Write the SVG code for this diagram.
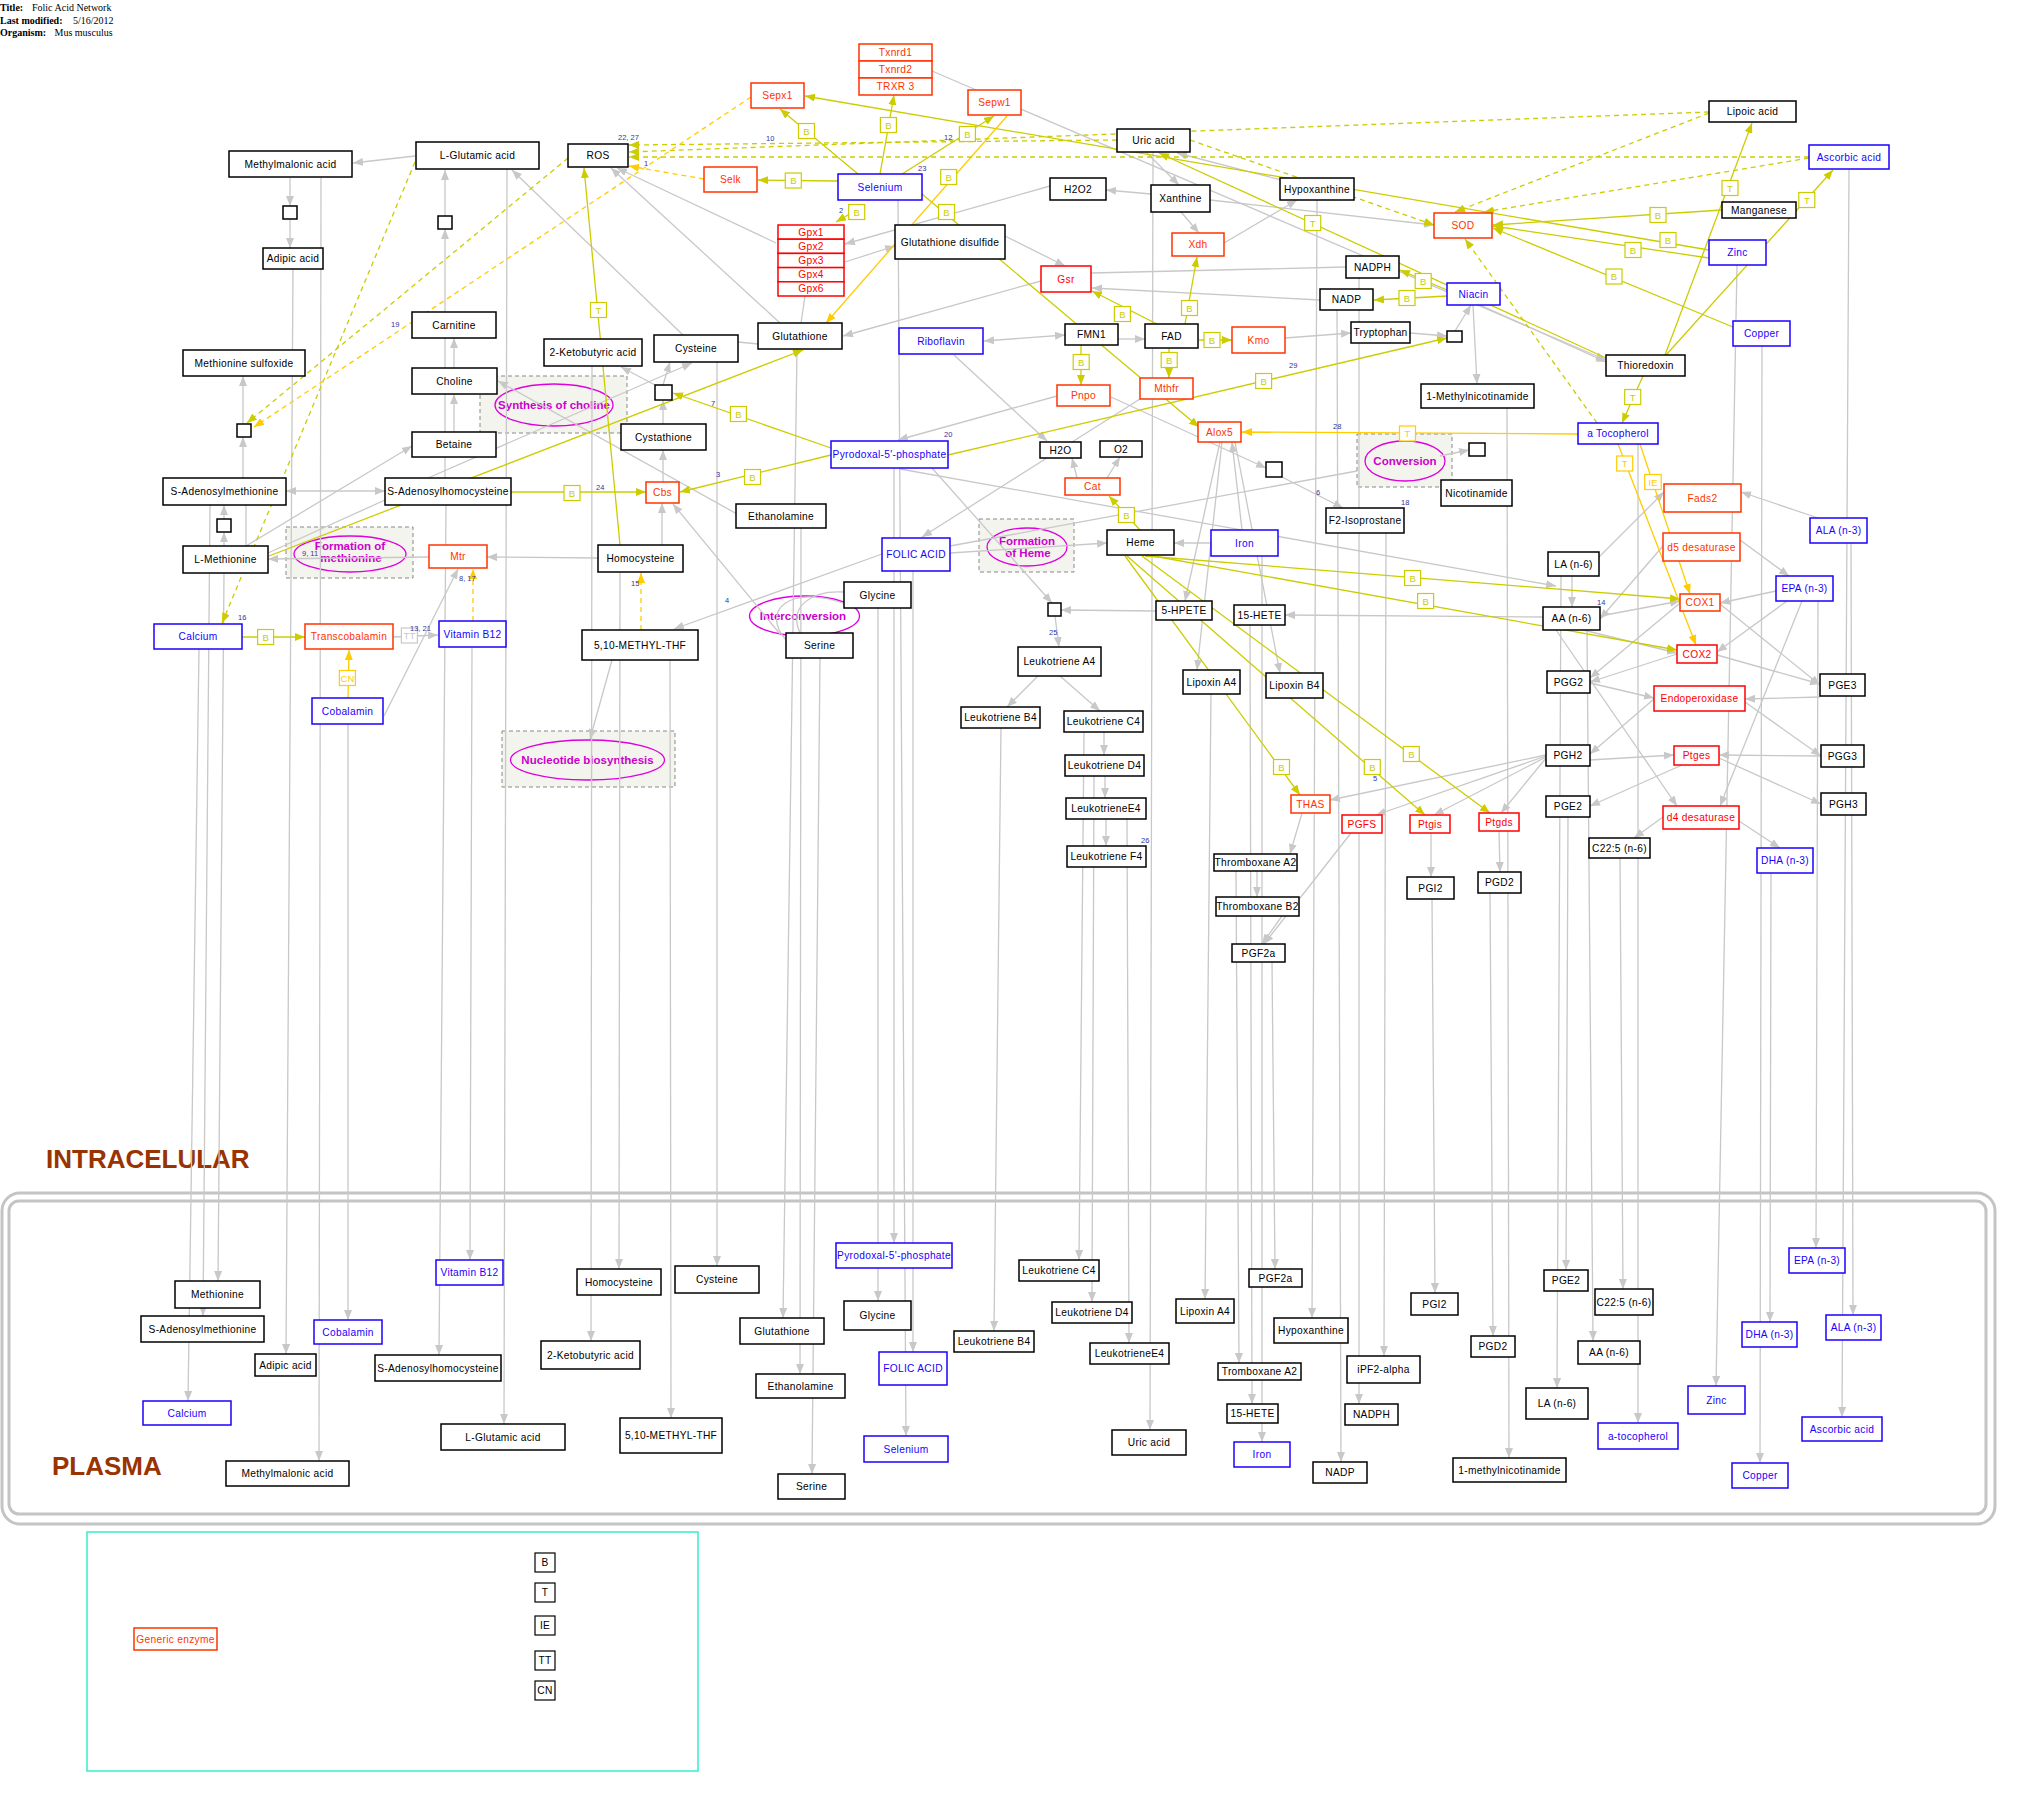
<svg xmlns="http://www.w3.org/2000/svg" width="2021" height="1801" viewBox="0 0 2021 1801">
<style>
text{font-family:"Liberation Sans",Arial,sans-serif;font-size:10.2px;letter-spacing:.3px;text-anchor:middle;fill:#000}
.node rect{fill:#fff;stroke:#000;stroke-width:1.5}
.enz rect{stroke:#ff3300}.enz text{fill:#ff3300}
.red rect{stroke:#ff0000}.red text{fill:#ff0000}
.blu rect{stroke:#1a00ff}.blu text{fill:#1a00ff}
.sq rect{fill:#fff;stroke:#000;stroke-width:1.5}
.cg{stroke:#c8c8c8;stroke-width:1.3;fill:none}
.co{stroke:#cccc00;stroke-width:1.3;fill:none}
.cy{stroke:#ffcc00;stroke-width:1.3;fill:none}
.d{stroke-dasharray:5 4}
.ag{marker-end:url(#mg)}.ao{marker-end:url(#mo)}.ay{marker-end:url(#my)}
.bi{marker-start:url(#mgs);marker-end:url(#mg)}
.mim rect{fill:#fff;stroke:#cccc00;stroke-width:1.2}.mim text{fill:#cccc00;font-size:9.5px;letter-spacing:0}
.mimy rect{fill:#fff;stroke:#ffcc00;stroke-width:1.2}.mimy text{fill:#ffcc00;font-size:9.5px;letter-spacing:0}
.mimg rect{fill:#fff;stroke:#c8c8c8;stroke-width:1.2}.mimg text{fill:#c8c8c8;font-size:9.5px;letter-spacing:0}
.num{fill:#333399;font-size:7.5px;text-anchor:start;letter-spacing:0}
.grp rect{fill:#f4f4ee;stroke:#888;stroke-width:1;stroke-dasharray:4 3}
.ell{fill:none;stroke:#dd00dd;stroke-width:1.3}
.et{fill:#cc00cc;font-weight:bold;font-size:11.5px;letter-spacing:0}
.ttl{font-family:"Liberation Serif","Times New Roman",serif;font-size:10px;text-anchor:start;letter-spacing:0}
.big{font-weight:bold;font-size:26px;fill:#993300;text-anchor:start;letter-spacing:0}
.leg rect{fill:#fff;stroke:#000;stroke-width:1.2}
</style>
<defs>
<marker id="mg" viewBox="0 0 10 8" refX="10" refY="4" markerWidth="10" markerHeight="8" markerUnits="userSpaceOnUse" orient="auto"><path d="M0,0L10,4L0,8z" fill="#c8c8c8"/></marker>
<marker id="mgs" viewBox="0 0 10 8" refX="10" refY="4" markerWidth="10" markerHeight="8" markerUnits="userSpaceOnUse" orient="auto-start-reverse"><path d="M0,0L10,4L0,8z" fill="#c8c8c8"/></marker>
<marker id="mo" viewBox="0 0 10 8" refX="10" refY="4" markerWidth="10" markerHeight="8" markerUnits="userSpaceOnUse" orient="auto"><path d="M0,0L10,4L0,8z" fill="#cccc00"/></marker>
<marker id="my" viewBox="0 0 10 8" refX="10" refY="4" markerWidth="10" markerHeight="8" markerUnits="userSpaceOnUse" orient="auto"><path d="M0,0L10,4L0,8z" fill="#ffcc00"/></marker>
</defs>
<rect width="2021" height="1801" fill="#fff"/>

<g id="title">
<text class="ttl" x="0" y="11"><tspan font-weight="bold">Title:</tspan></text><text class="ttl" x="32" y="11">Folic Acid Network</text>
<text class="ttl" x="0" y="23.5"><tspan font-weight="bold">Last modified:</tspan></text><text class="ttl" x="73" y="23.5">5/16/2012</text>
<text class="ttl" x="0" y="36"><tspan font-weight="bold">Organism:</tspan></text><text class="ttl" x="54.5" y="36">Mus musculus</text>
</g>

<g id="compartments">
<rect x="2" y="1193" width="1993" height="331" rx="18" fill="none" stroke="#c4c4c4" stroke-width="3"/>
<rect x="9" y="1201" width="1977" height="313" rx="10" fill="none" stroke="#c4c4c4" stroke-width="3"/>
<text class="big" x="46" y="1168">INTRACELULAR</text>
<text class="big" x="52" y="1475">PLASMA</text>
</g>

<g id="groups">
<g id="grp-choline" class="grp"><rect x="480" y="376" width="147" height="57"/><ellipse class="ell" cx="554" cy="405" rx="59" ry="21"/><text class="et" x="554" y="409">Synthesis of choline</text></g>
<g id="grp-methionine" class="grp"><rect x="286" y="527" width="127" height="51"/><ellipse class="ell" cx="350" cy="554" rx="56" ry="18"/><text class="et" x="350" y="550">Formation of</text><text class="et" x="351" y="562">methionine</text></g>
<g id="grp-heme" class="grp"><rect x="979" y="519" width="95" height="53"/><ellipse class="ell" cx="1027" cy="547" rx="40" ry="19"/><text class="et" x="1027" y="545">Formation</text><text class="et" x="1028" y="557">of Heme</text></g>
<g id="grp-conversion" class="grp"><rect x="1357" y="434" width="95" height="53"/><ellipse class="ell" cx="1405" cy="461" rx="40" ry="20"/><text class="et" x="1405" y="465">Conversion</text></g>
<g id="grp-nucleotide" class="grp"><rect x="502" y="731" width="173" height="56"/><ellipse class="ell" cx="587.5" cy="760" rx="77" ry="20"/><text class="et" x="587.5" y="764">Nucleotide biosynthesis</text></g>
<g id="grp-interconversion"><ellipse class="ell" cx="804.5" cy="616" rx="55" ry="20"/><text class="et" x="803" y="620">Interconversion</text></g>
</g>

<g id="connectors">
<line class="cg ag" x1="415" y1="156" x2="353" y2="163"/>
<line class="cg ag" x1="290" y1="178" x2="290" y2="206"/>
<line class="cg ag" x1="290" y1="219" x2="290" y2="248"/>
<line class="cg ag" x1="683" y1="335" x2="512" y2="170"/>
<line class="cg ag" x1="445" y1="216" x2="445" y2="170"/>
<line class="cg ag" x1="445" y1="478" x2="445" y2="229"/>
<line class="cg ag" x1="454" y1="368" x2="454" y2="338"/>
<line class="cg ag" x1="454" y1="432" x2="454" y2="394"/>
<line class="cg ag" x1="243" y1="424" x2="243" y2="376"/>
<line class="cg ag" x1="243" y1="478" x2="243" y2="437"/>
<line class="cg bi" x1="286" y1="491" x2="385" y2="491"/>
<line class="cg ag" x1="224" y1="546" x2="224" y2="532"/>
<line class="cg ag" x1="224" y1="519" x2="224" y2="505"/>
<line class="cg ag" x1="246" y1="546" x2="412" y2="446"/>
<line class="cg" x1="268" y1="553" x2="385" y2="500"/>
<line class="cg" x1="246" y1="505" x2="246" y2="546"/>
<line class="cg ag" x1="429" y1="557" x2="268" y2="559"/>
<line class="cg ag" x1="598" y1="558" x2="487" y2="557"/>
<line class="cg ag" x1="662" y1="545" x2="662" y2="503"/>
<line class="cg ag" x1="663" y1="482" x2="663" y2="450"/>
<line class="cg ag" x1="663" y1="424" x2="663" y2="400"/>
<line class="cg ag" x1="657" y1="386" x2="621" y2="367"/>
<line class="cg ag" x1="663" y1="385" x2="670" y2="362"/>
<line class="cg ag" x1="428" y1="478" x2="692" y2="363"/>
<line class="cg ag" x1="737" y1="514" x2="498" y2="381"/>
<line class="cg ag" x1="780" y1="634" x2="673" y2="504"/>
<line class="cg ag" x1="384" y1="716" x2="458" y2="569"/>
<line class="cg ag" x1="393" y1="637" x2="438" y2="635"/>
<line class="cg ag" x1="882" y1="554" x2="674" y2="629"/>
<line class="cg ag" x1="612" y1="660" x2="590" y2="739"/>
<line class="cg ag" x1="776" y1="243" x2="617" y2="168"/>
<line class="cg ag" x1="780" y1="323" x2="611" y2="168"/>
<line class="cg ag" x1="845" y1="262" x2="895" y2="246"/>
<line class="cg ag" x1="1050" y1="186" x2="845" y2="244"/>
<line class="cg" x1="805" y1="296" x2="801" y2="323"/>
<line class="cg" x1="738" y1="342" x2="758" y2="344"/>
<line class="cg ag" x1="1005" y1="236" x2="1065" y2="266"/>
<line class="cg ag" x1="1041" y1="281" x2="843" y2="336"/>
<line class="cg" x1="1091" y1="273" x2="1346" y2="267"/>
<line class="cg ag" x1="1320" y1="300" x2="1092" y2="288"/>
<line class="cg bi" x1="984" y1="341" x2="1065" y2="335"/>
<line class="cg ag" x1="1118" y1="339" x2="1145" y2="339"/>
<line class="cg ag" x1="954" y1="355" x2="1047" y2="441"/>
<line class="cg ag" x1="1057" y1="396" x2="898" y2="440"/>
<line class="cg ag" x1="1111" y1="397" x2="1266" y2="468"/>
<line class="cg ag" x1="1282" y1="477" x2="1343" y2="508"/>
<line class="cg ag" x1="1140" y1="399" x2="922" y2="537"/>
<line class="cg ag" x1="1077" y1="478" x2="1072" y2="458"/>
<line class="cg ag" x1="1107" y1="478" x2="1120" y2="457"/>
<line class="cg ag" x1="1211" y1="543" x2="1174" y2="543"/>
<line class="cg ag" x1="950" y1="553" x2="1107" y2="543"/>
<line class="cg" x1="950" y1="546" x2="1357" y2="471"/>
<line class="cg ag" x1="900" y1="469" x2="1556" y2="586"/>
<line class="cg ag" x1="1220" y1="442" x2="1185" y2="601"/>
<line class="cg ag" x1="1222" y1="442" x2="1197" y2="670"/>
<line class="cg ag" x1="1242" y1="530" x2="1232" y2="442"/>
<line class="cg ag" x1="1235" y1="442" x2="1280" y2="673"/>
<line class="cg ag" x1="1156" y1="611" x2="1061" y2="610"/>
<line class="cg ag" x1="1055" y1="616" x2="1059" y2="647"/>
<line class="cg ag" x1="932" y1="468" x2="1052" y2="603"/>
<line class="cg ag" x1="1038" y1="676" x2="1007" y2="707"/>
<line class="cg ag" x1="1060" y1="676" x2="1100" y2="711"/>
<line class="cg ag" x1="1104" y1="732" x2="1104" y2="755"/>
<line class="cg ag" x1="1105" y1="776" x2="1105" y2="798"/>
<line class="cg ag" x1="1106" y1="819" x2="1106" y2="846"/>
<line class="cg ag" x1="1543" y1="617" x2="1285" y2="615"/>
<line class="cg ag" x1="1151" y1="194" x2="1106" y2="190"/>
<line class="cg ag" x1="1146" y1="152" x2="1179" y2="185"/>
<line class="cg ag" x1="1181" y1="212" x2="1199" y2="233"/>
<line class="cg ag" x1="1224" y1="243" x2="1297" y2="200"/>
<line class="cg ag" x1="1281" y1="180" x2="1177" y2="153"/>
<line class="cg ag" x1="1210" y1="200" x2="1434" y2="225"/>
<line class="cg ag" x1="932" y1="71" x2="1606" y2="360"/>
<line class="cg ag" x1="1285" y1="338" x2="1351" y2="333"/>
<line class="cg ag" x1="1410" y1="333" x2="1447" y2="336"/>
<line class="cg ag" x1="1455" y1="331" x2="1471" y2="305"/>
<line class="cg ag" x1="1473" y1="305" x2="1477" y2="384"/>
<line class="cg ag" x1="1480" y1="305" x2="1606" y2="362"/>
<line class="cg ag" x1="1440" y1="456" x2="1469" y2="450"/>
<line class="cg ag" x1="1818" y1="518" x2="1741" y2="492"/>
<line class="cg ag" x1="1599" y1="557" x2="1664" y2="492"/>
<line class="cg ag" x1="1740" y1="540" x2="1789" y2="576"/>
<line class="cg ag" x1="1663" y1="546" x2="1600" y2="619"/>
<line class="cg ag" x1="1572" y1="576" x2="1572" y2="607"/>
<line class="cg ag" x1="1600" y1="616" x2="1680" y2="601"/>
<line class="cg ag" x1="1583" y1="630" x2="1677" y2="653"/>
<line class="cg ag" x1="1680" y1="603" x2="1590" y2="678"/>
<line class="cg ag" x1="1677" y1="654" x2="1590" y2="682"/>
<line class="cg ag" x1="1776" y1="591" x2="1720" y2="603"/>
<line class="cg ag" x1="1787" y1="601" x2="1717" y2="652"/>
<line class="cg ag" x1="1720" y1="604" x2="1820" y2="685"/>
<line class="cg ag" x1="1717" y1="655" x2="1820" y2="684"/>
<line class="cg ag" x1="1590" y1="683" x2="1654" y2="698"/>
<line class="cg ag" x1="1820" y1="697" x2="1745" y2="699"/>
<line class="cg ag" x1="1654" y1="699" x2="1590" y2="754"/>
<line class="cg ag" x1="1745" y1="702" x2="1821" y2="756"/>
<line class="cg ag" x1="1590" y1="760" x2="1674" y2="755"/>
<line class="cg ag" x1="1821" y1="756" x2="1719" y2="755"/>
<line class="cg ag" x1="1682" y1="765" x2="1590" y2="806"/>
<line class="cg ag" x1="1719" y1="758" x2="1821" y2="804"/>
<line class="cg ag" x1="1556" y1="630" x2="1677" y2="806"/>
<line class="cg ag" x1="1663" y1="817" x2="1634" y2="838"/>
<line class="cg ag" x1="1739" y1="821" x2="1780" y2="848"/>
<line class="cg ag" x1="1802" y1="601" x2="1720" y2="806"/>
<line class="cg ag" x1="1546" y1="756" x2="1376" y2="815"/>
<line class="cg ag" x1="1546" y1="757" x2="1434" y2="815"/>
<line class="cg ag" x1="1546" y1="758" x2="1501" y2="813"/>
<line class="cg ag" x1="1546" y1="755" x2="1330" y2="800"/>
<line class="cg ag" x1="1431" y1="833" x2="1431" y2="877"/>
<line class="cg ag" x1="1499" y1="831" x2="1500" y2="872"/>
<line class="cg ag" x1="1351" y1="833" x2="1264" y2="944"/>
<line class="cg ag" x1="1302" y1="813" x2="1290" y2="854"/>
<line class="cg ag" x1="1257" y1="871" x2="1257" y2="897"/>
<line class="cg ag" x1="1282" y1="916" x2="1262" y2="944"/>
<path class="cg" d="M800,633 C788,606 812,590 844,592"/>
<path class="cg" d="M786,640 C760,610 790,584 846,604"/>
<line class="cg ag" x1="224" y1="573" x2="218" y2="1281"/>
<line class="cg ag" x1="210" y1="505" x2="203" y2="1316"/>
<line class="cg ag" x1="199" y1="649" x2="188" y2="1401"/>
<line class="cg ag" x1="293" y1="269" x2="286" y2="1354"/>
<line class="cg ag" x1="321" y1="178" x2="319" y2="1461"/>
<line class="cg ag" x1="348" y1="724" x2="348" y2="1320"/>
<line class="cg ag" x1="472" y1="647" x2="470" y2="1260"/>
<line class="cg ag" x1="446" y1="505" x2="439" y2="1355"/>
<line class="cg ag" x1="507" y1="169" x2="504" y2="1424"/>
<line class="cg ag" x1="620" y1="572" x2="619" y2="1269"/>
<line class="cg ag" x1="592" y1="366" x2="591" y2="1341"/>
<line class="cg ag" x1="670" y1="660" x2="671" y2="1418"/>
<line class="cg ag" x1="717" y1="362" x2="717" y2="1266"/>
<line class="cg ag" x1="797" y1="349" x2="783" y2="1318"/>
<line class="cg ag" x1="801" y1="528" x2="800" y2="1374"/>
<line class="cg ag" x1="820" y1="658" x2="812" y2="1474"/>
<line class="cg ag" x1="894" y1="468" x2="894" y2="1243"/>
<line class="cg ag" x1="878" y1="608" x2="878" y2="1301"/>
<line class="cg ag" x1="913" y1="571" x2="913" y2="1352"/>
<line class="cg ag" x1="898" y1="200" x2="906" y2="1436"/>
<line class="cg ag" x1="1001" y1="728" x2="994" y2="1331"/>
<line class="cg ag" x1="1084" y1="732" x2="1079" y2="1260"/>
<line class="cg ag" x1="1094" y1="776" x2="1092" y2="1302"/>
<line class="cg ag" x1="1127" y1="819" x2="1129" y2="1343"/>
<line class="cg ag" x1="1153" y1="152" x2="1150" y2="1430"/>
<line class="cg ag" x1="1211" y1="694" x2="1205" y2="1299"/>
<line class="cg ag" x1="1272" y1="962" x2="1275" y2="1269"/>
<line class="cg ag" x1="1236" y1="871" x2="1239" y2="1363"/>
<line class="cg ag" x1="1250" y1="625" x2="1252" y2="1404"/>
<line class="cg ag" x1="1262" y1="556" x2="1262" y2="1442"/>
<line class="cg ag" x1="1317" y1="200" x2="1312" y2="1318"/>
<line class="cg ag" x1="1337" y1="310" x2="1341" y2="1462"/>
<line class="cg ag" x1="1359" y1="278" x2="1359" y2="1404"/>
<line class="cg ag" x1="1386" y1="533" x2="1384" y2="1356"/>
<line class="cg ag" x1="1432" y1="899" x2="1435" y2="1293"/>
<line class="cg ag" x1="1490" y1="893" x2="1493" y2="1336"/>
<line class="cg ag" x1="1507" y1="408" x2="1509" y2="1458"/>
<line class="cg ag" x1="1568" y1="817" x2="1566" y2="1270"/>
<line class="cg ag" x1="1561" y1="576" x2="1557" y2="1388"/>
<line class="cg ag" x1="1620" y1="858" x2="1623" y2="1289"/>
<line class="cg ag" x1="1587" y1="630" x2="1593" y2="1341"/>
<line class="cg ag" x1="1638" y1="444" x2="1638" y2="1423"/>
<line class="cg ag" x1="1737" y1="265" x2="1716" y2="1386"/>
<line class="cg ag" x1="1762" y1="346" x2="1760" y2="1463"/>
<line class="cg ag" x1="1771" y1="873" x2="1770" y2="1322"/>
<line class="cg ag" x1="1818" y1="601" x2="1816" y2="1248"/>
<line class="cg ag" x1="1851" y1="542" x2="1853" y2="1315"/>
<line class="cg ag" x1="1849" y1="169" x2="1842" y2="1417"/>
<line class="co ao" x1="511" y1="492" x2="646" y2="492"/>
<line class="co ao" x1="620" y1="545" x2="584" y2="168"/>
<line class="co ao" x1="269" y1="556" x2="803" y2="350"/>
<line class="co ao" x1="242" y1="637" x2="305" y2="637"/>
<line class="co ao" x1="858" y1="174" x2="780" y2="109"/>
<line class="co ao" x1="880" y1="174" x2="894" y2="95"/>
<line class="co ao" x1="902" y1="174" x2="994" y2="116"/>
<line class="co ao" x1="838" y1="181" x2="758" y2="180"/>
<line class="co ao" x1="865" y1="205" x2="836" y2="222"/>
<line class="co ao" x1="922" y1="194" x2="1199" y2="427"/>
<line class="co ao" x1="1709" y1="250" x2="805" y2="96"/>
<line class="co ao" x1="1606" y1="358" x2="1159" y2="153"/>
<line class="co ao" x1="1157" y1="324" x2="1092" y2="291"/>
<line class="co ao" x1="1185" y1="324" x2="1197" y2="257"/>
<line class="co ao" x1="1199" y1="340" x2="1232" y2="340"/>
<line class="co ao" x1="1081" y1="345" x2="1081" y2="385"/>
<line class="co ao" x1="1169" y1="348" x2="1169" y2="378"/>
<line class="co ao" x1="948" y1="455" x2="1447" y2="338"/>
<line class="co ao" x1="831" y1="448" x2="673" y2="393"/>
<line class="co ao" x1="831" y1="455" x2="680" y2="492"/>
<line class="co ao" x1="1140" y1="530" x2="1109" y2="496"/>
<line class="co ao" x1="1722" y1="210" x2="1493" y2="225"/>
<line class="co ao" x1="1709" y1="258" x2="1493" y2="226"/>
<line class="co ao" x1="1733" y1="327" x2="1493" y2="228"/>
<line class="co ao" x1="1447" y1="290" x2="1400" y2="270"/>
<line class="co ao" x1="1447" y1="296" x2="1374" y2="300"/>
<line class="co ao" x1="1643" y1="376" x2="1622" y2="423"/>
<line class="co ao" x1="1665" y1="355" x2="1752" y2="123"/>
<line class="co ao" x1="1666" y1="355" x2="1833" y2="170"/>
<line class="co ao" x1="1125" y1="556" x2="1300" y2="795"/>
<line class="co ao" x1="1127" y1="556" x2="1425" y2="815"/>
<line class="co ao" x1="1142" y1="556" x2="1490" y2="813"/>
<line class="co ao" x1="1145" y1="556" x2="1680" y2="599"/>
<line class="co ao" x1="1153" y1="556" x2="1677" y2="650"/>
<line class="cy ay" x1="1007" y1="116" x2="826" y2="323"/>
<line class="cy ay" x1="1578" y1="434" x2="1242" y2="432"/>
<line class="cy ay" x1="1618" y1="444" x2="1696" y2="645"/>
<line class="cy ay" x1="1640" y1="444" x2="1690" y2="594"/>
<line class="cy ay" x1="348" y1="698" x2="349" y2="650"/>
<line class="co d ao" x1="415" y1="162" x2="222" y2="623"/>
<line class="co d ao" x1="568" y1="158" x2="247" y2="423"/>
<line class="co d ao" x1="1117" y1="140" x2="629" y2="145"/>
<line class="co d ao" x1="1709" y1="112" x2="629" y2="152"/>
<line class="co d ao" x1="1809" y1="157" x2="629" y2="157"/>
<line class="co d ao" x1="1190" y1="140" x2="1434" y2="225"/>
<line class="co d ao" x1="1709" y1="113" x2="1455" y2="212"/>
<line class="co d ao" x1="1809" y1="158" x2="1484" y2="212"/>
<line class="co d ao" x1="1597" y1="423" x2="1465" y2="239"/>
<line class="cy d ay" x1="751" y1="97" x2="254" y2="427"/>
<line class="cy d ay" x1="704" y1="179" x2="629" y2="166"/>
<line class="cy d ay" x1="473" y1="621" x2="473" y2="569"/>
<line class="cy d ay" x1="641" y1="630" x2="641" y2="573"/>
</g>

<g id="edge-labels">
<g class="mim"><rect x="564" y="485.5" width="16" height="15"/><text x="572" y="496.5">B</text></g>
<g class="mim"><rect x="257.6" y="629.5" width="16" height="15"/><text x="265.6" y="640.5">B</text></g>
<g class="mim"><rect x="798.5" y="123.5" width="16" height="15"/><text x="806.5" y="134.5">B</text></g>
<g class="mim"><rect x="880.4" y="117.5" width="16" height="15"/><text x="888.4" y="128.5">B</text></g>
<g class="mim"><rect x="959.4" y="126.5" width="16" height="15"/><text x="967.4" y="137.5">B</text></g>
<g class="mim"><rect x="785.3" y="173" width="16" height="15"/><text x="793.3" y="184">B</text></g>
<g class="mim"><rect x="848.7" y="204.5" width="16" height="15"/><text x="856.7" y="215.5">B</text></g>
<g class="mim"><rect x="940.7" y="169.5" width="16" height="15"/><text x="948.7" y="180.5">B</text></g>
<g class="mim"><rect x="938.5" y="204.5" width="16" height="15"/><text x="946.5" y="215.5">B</text></g>
<g class="mim"><rect x="1114.4" y="306.5" width="16" height="15"/><text x="1122.4" y="317.5">B</text></g>
<g class="mim"><rect x="1181.5" y="300.5" width="16" height="15"/><text x="1189.5" y="311.5">B</text></g>
<g class="mim"><rect x="1204" y="332.5" width="16" height="15"/><text x="1212" y="343.5">B</text></g>
<g class="mim"><rect x="1073.2" y="354.5" width="16" height="15"/><text x="1081.2" y="365.5">B</text></g>
<g class="mim"><rect x="1161.2" y="352.5" width="16" height="15"/><text x="1169.2" y="363.5">B</text></g>
<g class="mim"><rect x="1255.6" y="373.5" width="16" height="15"/><text x="1263.6" y="384.5">B</text></g>
<g class="mim"><rect x="730.4" y="406.5" width="16" height="15"/><text x="738.4" y="417.5">B</text></g>
<g class="mim"><rect x="744.5" y="469.5" width="16" height="15"/><text x="752.5" y="480.5">B</text></g>
<g class="mim"><rect x="1118.4" y="507.5" width="16" height="15"/><text x="1126.4" y="518.5">B</text></g>
<g class="mim"><rect x="1650" y="207.5" width="16" height="15"/><text x="1658" y="218.5">B</text></g>
<g class="mim"><rect x="1660" y="232.5" width="16" height="15"/><text x="1668" y="243.5">B</text></g>
<g class="mim"><rect x="1625" y="242.5" width="16" height="15"/><text x="1633" y="253.5">B</text></g>
<g class="mim"><rect x="1606" y="269" width="16" height="15"/><text x="1614" y="280">B</text></g>
<g class="mim"><rect x="1415.2" y="273.5" width="16" height="15"/><text x="1423.2" y="284.5">B</text></g>
<g class="mim"><rect x="1399" y="290.5" width="16" height="15"/><text x="1407" y="301.5">B</text></g>
<g class="mim"><rect x="1404.6" y="570.5" width="16" height="15"/><text x="1412.6" y="581.5">B</text></g>
<g class="mim"><rect x="1417.6" y="593.5" width="16" height="15"/><text x="1425.6" y="604.5">B</text></g>
<g class="mim"><rect x="1273.5" y="759.5" width="16" height="15"/><text x="1281.5" y="770.5">B</text></g>
<g class="mim"><rect x="1364.3" y="759.5" width="16" height="15"/><text x="1372.3" y="770.5">B</text></g>
<g class="mim"><rect x="1403.3" y="746.5" width="16" height="15"/><text x="1411.3" y="757.5">B</text></g>
<g class="mim"><rect x="590.5" y="302.5" width="16" height="15"/><text x="598.5" y="313.5">T</text></g>
<g class="mim"><rect x="1304.7" y="215.5" width="16" height="15"/><text x="1312.7" y="226.5">T</text></g>
<g class="mim"><rect x="1722" y="180.5" width="16" height="15"/><text x="1730" y="191.5">T</text></g>
<g class="mim"><rect x="1798.8" y="192.5" width="16" height="15"/><text x="1806.8" y="203.5">T</text></g>
<g class="mim"><rect x="1624.7" y="389.5" width="16" height="15"/><text x="1632.7" y="400.5">T</text></g>
<g class="mimy"><rect x="1399.5" y="426" width="16" height="15"/><text x="1407.5" y="437">T</text></g>
<g class="mimy"><rect x="1616.7" y="456" width="16" height="15"/><text x="1624.7" y="467">T</text></g>
<g class="mimy"><rect x="1644.7" y="474.5" width="16.5" height="15"/><text x="1653" y="485.5">IE</text></g>
<g class="mimy"><rect x="339.4" y="670.5" width="16" height="15"/><text x="347.4" y="681.5">CN</text></g>
<g class="mimg"><rect x="401.4" y="628" width="16" height="15"/><text x="409.4" y="639">TT</text></g>
<text class="num" x="618" y="140">22, 27</text>
<text class="num" x="644" y="166">1</text>
<text class="num" x="766" y="141">10</text>
<text class="num" x="944" y="140">12</text>
<text class="num" x="918" y="171">23</text>
<text class="num" x="839" y="213">2</text>
<text class="num" x="391" y="327">19</text>
<text class="num" x="596" y="490">24</text>
<text class="num" x="716" y="477">3</text>
<text class="num" x="711" y="406">7</text>
<text class="num" x="944" y="437">20</text>
<text class="num" x="1289" y="368">29</text>
<text class="num" x="1333" y="429">28</text>
<text class="num" x="1316" y="495">6</text>
<text class="num" x="1401" y="505">18</text>
<text class="num" x="302" y="556">9, 11</text>
<text class="num" x="459" y="581">8, 17</text>
<text class="num" x="631" y="586">15</text>
<text class="num" x="238" y="620">16</text>
<text class="num" x="410" y="631">13, 21</text>
<text class="num" x="725" y="603">4</text>
<text class="num" x="1049" y="635">25</text>
<text class="num" x="1597" y="605">14</text>
<text class="num" x="1141" y="843">26</text>
<text class="num" x="1373" y="781">5</text>
</g>

<g id="nodes-intracellular">
<g id="n-methylmalonic" class="node"><rect x="229" y="151" width="123" height="26"/><text x="290.5" y="167.5">Methylmalonic acid</text></g>
<g id="n-lglutamic" class="node"><rect x="416" y="142" width="123" height="27"/><text x="477.5" y="159">L-Glutamic acid</text></g>
<g id="n-ros" class="node"><rect x="568" y="144" width="60" height="23"/><text x="598" y="159">ROS</text></g>
<g id="n-sq1" class="sq"><rect x="283" y="206" width="14" height="13"/></g>
<g id="n-adipic" class="node"><rect x="263" y="248" width="60" height="21"/><text x="293" y="262">Adipic acid</text></g>
<g id="n-sq2" class="sq"><rect x="438" y="216" width="14" height="13"/></g>
<g id="n-carnitine" class="node"><rect x="412" y="312" width="84" height="26"/><text x="454" y="328.5">Carnitine</text></g>
<g id="n-metsulfoxide" class="node"><rect x="183" y="350" width="122" height="26"/><text x="244" y="366.5">Methionine sulfoxide</text></g>
<g id="n-ketobutyric" class="node"><rect x="544" y="339" width="98" height="27"/><text x="593" y="356">2-Ketobutyric acid</text></g>
<g id="n-cysteine" class="node"><rect x="654" y="335" width="84" height="27"/><text x="696" y="352">Cysteine</text></g>
<g id="n-choline" class="node"><rect x="412" y="368" width="85" height="26"/><text x="454.5" y="384.5">Choline</text></g>
<g id="n-sq3" class="sq"><rect x="237" y="424" width="14" height="13"/></g>
<g id="n-betaine" class="node"><rect x="412" y="432" width="84" height="25"/><text x="454" y="448">Betaine</text></g>
<g id="n-sqcys" class="sq"><rect x="655" y="385" width="17" height="15"/></g>
<g id="n-cystathione" class="node"><rect x="621" y="424" width="85" height="26"/><text x="663.5" y="440.5">Cystathione</text></g>
<g id="n-sam" class="node"><rect x="163" y="478" width="123" height="27"/><text x="224.5" y="495">S-Adenosylmethionine</text></g>
<g id="n-sah" class="node"><rect x="385" y="478" width="126" height="27"/><text x="448" y="495">S-Adenosylhomocysteine</text></g>
<g id="n-cbs" class="node enz"><rect x="646" y="482" width="33" height="21"/><text x="662.5" y="496">Cbs</text></g>
<g id="n-sq4" class="sq"><rect x="217" y="519" width="14" height="13"/></g>
<g id="n-lmethionine" class="node"><rect x="183" y="546" width="85" height="27"/><text x="225.5" y="563">L-Methionine</text></g>
<g id="n-mtr" class="node enz"><rect x="429" y="545" width="58" height="23"/><text x="458" y="560">Mtr</text></g>
<g id="n-homocysteine" class="node"><rect x="598" y="545" width="85" height="27"/><text x="640.5" y="562">Homocysteine</text></g>
<g id="n-calcium" class="node blu"><rect x="154" y="624" width="88" height="25"/><text x="198" y="640">Calcium</text></g>
<g id="n-transcobalamin" class="node enz"><rect x="305" y="624" width="88" height="25"/><text x="349" y="640">Transcobalamin</text></g>
<g id="n-vitb12" class="node blu"><rect x="439" y="621" width="67" height="26"/><text x="472.5" y="637.5">Vitamin B12</text></g>
<g id="n-cobalamin" class="node blu"><rect x="312" y="698" width="71" height="26"/><text x="347.5" y="714.5">Cobalamin</text></g>
<g id="n-mthf" class="node"><rect x="582" y="630" width="116" height="30"/><text x="640" y="648.5">5,10-METHYL-THF</text></g>
<g id="n-txnrd" class="node enz"><rect x="859" y="44" width="73" height="17"/><rect x="859" y="61" width="73" height="17"/><rect x="859" y="78" width="73" height="17"/><text x="895.5" y="56">Txnrd1</text><text x="895.5" y="73">Txnrd2</text><text x="895.5" y="90">TRXR 3</text></g>
<g id="n-sepx1" class="node enz"><rect x="751" y="83" width="53" height="25"/><text x="777.5" y="99">Sepx1</text></g>
<g id="n-sepw1" class="node enz"><rect x="968" y="90" width="53" height="25"/><text x="994.5" y="106">Sepw1</text></g>
<g id="n-selk" class="node enz"><rect x="704" y="167" width="53" height="25"/><text x="730.5" y="183">Selk</text></g>
<g id="n-selenium" class="node blu"><rect x="838" y="174" width="84" height="26"/><text x="880" y="190.5">Selenium</text></g>
<g id="n-gpx" class="node red"><rect x="778" y="225" width="66" height="14.2"/><rect x="778" y="239.2" width="66" height="14.2"/><rect x="778" y="253.4" width="66" height="14.2"/><rect x="778" y="267.6" width="66" height="14.2"/><rect x="778" y="281.8" width="66" height="14.2"/><text x="811" y="235.6">Gpx1</text><text x="811" y="249.8">Gpx2</text><text x="811" y="264">Gpx3</text><text x="811" y="278.2">Gpx4</text><text x="811" y="292.4">Gpx6</text></g>
<g id="n-gssg" class="node"><rect x="895" y="225" width="110" height="34"/><text x="950" y="245.5">Glutathione disulfide</text></g>
<g id="n-h2o2" class="node"><rect x="1050" y="178" width="56" height="22"/><text x="1078" y="192.5">H2O2</text></g>
<g id="n-uric" class="node"><rect x="1117" y="129" width="73" height="23"/><text x="1153.5" y="144">Uric acid</text></g>
<g id="n-xanthine" class="node"><rect x="1151" y="185" width="59" height="27"/><text x="1180.5" y="202">Xanthine</text></g>
<g id="n-hypoxanthine" class="node"><rect x="1280" y="178" width="74" height="22"/><text x="1317" y="192.5">Hypoxanthine</text></g>
<g id="n-xdh" class="node enz"><rect x="1172" y="233" width="52" height="23"/><text x="1198" y="248">Xdh</text></g>
<g id="n-gsr" class="node red"><rect x="1041" y="266" width="50" height="26"/><text x="1066" y="282.5">Gsr</text></g>
<g id="n-nadph" class="node"><rect x="1346" y="256" width="53" height="22"/><text x="1372.5" y="270.5">NADPH</text></g>
<g id="n-nadp" class="node"><rect x="1320" y="289" width="53" height="21"/><text x="1346.5" y="303">NADP</text></g>
<g id="n-glutathione" class="node"><rect x="758" y="323" width="84" height="26"/><text x="800" y="339.5">Glutathione</text></g>
<g id="n-riboflavin" class="node blu"><rect x="899" y="328" width="84" height="26"/><text x="941" y="344.5">Riboflavin</text></g>
<g id="n-fmn1" class="node"><rect x="1065" y="324" width="53" height="21"/><text x="1091.5" y="338">FMN1</text></g>
<g id="n-fad" class="node"><rect x="1145" y="324" width="53" height="24"/><text x="1171.5" y="339.5">FAD</text></g>
<g id="n-kmo" class="node enz"><rect x="1232" y="327" width="53" height="26"/><text x="1258.5" y="343.5">Kmo</text></g>
<g id="n-pnpo" class="node enz"><rect x="1057" y="385" width="53" height="21"/><text x="1083.5" y="399">Pnpo</text></g>
<g id="n-mthfr" class="node enz"><rect x="1140" y="378" width="53" height="21"/><text x="1166.5" y="392">Mthfr</text></g>
<g id="n-alox5" class="node enz"><rect x="1198" y="422" width="43" height="20"/><text x="1219.5" y="435.5">Alox5</text></g>
<g id="n-pyridoxal" class="node blu"><rect x="831" y="441" width="117" height="27"/><text x="889.5" y="458">Pyrodoxal-5'-phosphate</text></g>
<g id="n-ethanolamine" class="node"><rect x="736" y="504" width="90" height="24"/><text x="781" y="519.5">Ethanolamine</text></g>
<g id="n-h2o" class="node"><rect x="1040" y="442" width="41" height="16"/><text x="1060.5" y="453.5">H2O</text></g>
<g id="n-o2" class="node"><rect x="1100" y="441" width="42" height="16"/><text x="1121" y="452.5">O2</text></g>
<g id="n-cat" class="node enz"><rect x="1065" y="478" width="55" height="17"/><text x="1092.5" y="490">Cat</text></g>
<g id="n-sqpnpo" class="sq"><rect x="1266" y="462" width="16" height="15"/></g>
<g id="n-folic" class="node blu"><rect x="882" y="538" width="68" height="33"/><text x="916" y="558">FOLIC ACID</text></g>
<g id="n-heme" class="node"><rect x="1107" y="530" width="67" height="25"/><text x="1140.5" y="546">Heme</text></g>
<g id="n-iron" class="node blu"><rect x="1211" y="530" width="67" height="26"/><text x="1244.5" y="546.5">Iron</text></g>
<g id="n-glycine" class="node"><rect x="844" y="582" width="67" height="26"/><text x="877.5" y="598.5">Glycine</text></g>
<g id="n-serine" class="node"><rect x="786" y="633" width="67" height="25"/><text x="819.5" y="649">Serine</text></g>
<g id="n-sqlt" class="sq"><rect x="1048" y="603" width="13" height="13"/></g>
<g id="n-hpete" class="node"><rect x="1156" y="601" width="56" height="19"/><text x="1184" y="614">5-HPETE</text></g>
<g id="n-hete15" class="node"><rect x="1234" y="605" width="51" height="20"/><text x="1259.5" y="618.5">15-HETE</text></g>
<g id="n-lta4" class="node"><rect x="1018" y="647" width="83" height="29"/><text x="1059.5" y="665">Leukotriene A4</text></g>
<g id="n-ltb4" class="node"><rect x="961" y="707" width="79" height="21"/><text x="1000.5" y="721">Leukotriene B4</text></g>
<g id="n-ltc4" class="node"><rect x="1064" y="711" width="79" height="21"/><text x="1103.5" y="725">Leukotriene C4</text></g>
<g id="n-ltd4" class="node"><rect x="1065" y="755" width="79" height="21"/><text x="1104.5" y="769">Leukotriene D4</text></g>
<g id="n-lte4" class="node"><rect x="1066" y="798" width="80" height="21"/><text x="1106" y="812">LeukotrieneE4</text></g>
<g id="n-ltf4" class="node"><rect x="1067" y="846" width="79" height="21"/><text x="1106.5" y="860">Leukotriene F4</text></g>
<g id="n-lipoxina4" class="node"><rect x="1183" y="670" width="57" height="24"/><text x="1211.5" y="685.5">Lipoxin A4</text></g>
<g id="n-lipoxinb4" class="node"><rect x="1266" y="673" width="57" height="25"/><text x="1294.5" y="689">Lipoxin B4</text></g>
<g id="n-thas" class="node enz"><rect x="1291" y="795" width="39" height="18"/><text x="1310.5" y="807.5">THAS</text></g>
<g id="n-txa2" class="node"><rect x="1214" y="854" width="83" height="17"/><text x="1255.5" y="866">Thromboxane A2</text></g>
<g id="n-txb2" class="node"><rect x="1216" y="897" width="83" height="19"/><text x="1257.5" y="910">Thromboxane B2</text></g>
<g id="n-pgf2a" class="node"><rect x="1232" y="944" width="53" height="18"/><text x="1258.5" y="956.5">PGF2a</text></g>
<g id="n-lipoic" class="node"><rect x="1709" y="101" width="87" height="21"/><text x="1752.5" y="115">Lipoic acid</text></g>
<g id="n-ascorbic" class="node blu"><rect x="1809" y="145" width="80" height="24"/><text x="1849" y="160.5">Ascorbic acid</text></g>
<g id="n-sod" class="node enz"><rect x="1434" y="213" width="58" height="25"/><text x="1463" y="229">SOD</text></g>
<g id="n-manganese" class="node"><rect x="1722" y="202" width="74" height="16"/><text x="1759" y="213.5">Manganese</text></g>
<g id="n-zinc" class="node blu"><rect x="1709" y="240" width="57" height="25"/><text x="1737.5" y="256">Zinc</text></g>
<g id="n-niacin" class="node blu"><rect x="1447" y="283" width="53" height="22"/><text x="1473.5" y="297.5">Niacin</text></g>
<g id="n-tryptophan" class="node"><rect x="1351" y="322" width="59" height="21"/><text x="1380.5" y="336">Tryptophan</text></g>
<g id="n-sqtry" class="sq"><rect x="1447" y="331" width="15" height="11"/></g>
<g id="n-copper" class="node blu"><rect x="1733" y="321" width="57" height="25"/><text x="1761.5" y="337">Copper</text></g>
<g id="n-thioredoxin" class="node"><rect x="1606" y="355" width="79" height="21"/><text x="1645.5" y="369">Thioredoxin</text></g>
<g id="n-mna" class="node"><rect x="1421" y="384" width="113" height="24"/><text x="1477.5" y="399.5">1-Methylnicotinamide</text></g>
<g id="n-tocopherol" class="node blu"><rect x="1578" y="423" width="80" height="21"/><text x="1618" y="437">a Tocopherol</text></g>
<g id="n-sqconv" class="sq"><rect x="1469" y="443" width="16" height="13"/></g>
<g id="n-nicotinamide" class="node"><rect x="1441" y="480" width="71" height="26"/><text x="1476.5" y="496.5">Nicotinamide</text></g>
<g id="n-f2iso" class="node"><rect x="1326" y="508" width="78" height="25"/><text x="1365" y="524">F2-Isoprostane</text></g>
<g id="n-fads2" class="node enz"><rect x="1664" y="484" width="77" height="28"/><text x="1702.5" y="501.5">Fads2</text></g>
<g id="n-ala" class="node blu"><rect x="1810" y="518" width="57" height="25"/><text x="1838.5" y="534">ALA (n-3)</text></g>
<g id="n-d5" class="node enz"><rect x="1663" y="533" width="77" height="28"/><text x="1701.5" y="550.5">d5 desaturase</text></g>
<g id="n-la" class="node"><rect x="1548" y="552" width="51" height="24"/><text x="1573.5" y="567.5">LA (n-6)</text></g>
<g id="n-epa" class="node blu"><rect x="1776" y="576" width="57" height="25"/><text x="1804.5" y="592">EPA (n-3)</text></g>
<g id="n-cox1" class="node enz"><rect x="1680" y="594" width="40" height="17"/><text x="1700" y="606">COX1</text></g>
<g id="n-aa" class="node"><rect x="1543" y="607" width="57" height="23"/><text x="1571.5" y="622">AA (n-6)</text></g>
<g id="n-cox2" class="node red"><rect x="1677" y="645" width="40" height="18"/><text x="1697" y="657.5">COX2</text></g>
<g id="n-pgg2" class="node"><rect x="1547" y="671" width="43" height="22"/><text x="1568.5" y="685.5">PGG2</text></g>
<g id="n-pge3" class="node"><rect x="1820" y="674" width="45" height="22"/><text x="1842.5" y="688.5">PGE3</text></g>
<g id="n-endo" class="node red"><rect x="1654" y="686" width="91" height="25"/><text x="1699.5" y="702">Endoperoxidase</text></g>
<g id="n-pgh2" class="node"><rect x="1546" y="745" width="44" height="21"/><text x="1568" y="759">PGH2</text></g>
<g id="n-ptges" class="node red"><rect x="1674" y="746" width="45" height="19"/><text x="1696.5" y="759">Ptges</text></g>
<g id="n-pgg3" class="node"><rect x="1821" y="745" width="43" height="22"/><text x="1842.5" y="759.5">PGG3</text></g>
<g id="n-pgh3" class="node"><rect x="1821" y="793" width="45" height="22"/><text x="1843.5" y="807.5">PGH3</text></g>
<g id="n-pge2" class="node"><rect x="1546" y="796" width="44" height="21"/><text x="1568" y="810">PGE2</text></g>
<g id="n-d4" class="node red"><rect x="1663" y="806" width="76" height="23"/><text x="1701" y="821">d4 desaturase</text></g>
<g id="n-c225" class="node"><rect x="1589" y="838" width="61" height="20"/><text x="1619.5" y="851.5">C22:5 (n-6)</text></g>
<g id="n-dha" class="node blu"><rect x="1757" y="848" width="56" height="25"/><text x="1785" y="864">DHA (n-3)</text></g>
<g id="n-pgfs" class="node red"><rect x="1342" y="815" width="40" height="18"/><text x="1362" y="827.5">PGFS</text></g>
<g id="n-ptgis" class="node red"><rect x="1410" y="815" width="40" height="18"/><text x="1430" y="827.5">Ptgis</text></g>
<g id="n-ptgds" class="node red"><rect x="1479" y="813" width="40" height="18"/><text x="1499" y="825.5">Ptgds</text></g>
<g id="n-pgi2" class="node"><rect x="1407" y="877" width="47" height="22"/><text x="1430.5" y="891.5">PGI2</text></g>
<g id="n-pgd2" class="node"><rect x="1478" y="872" width="43" height="21"/><text x="1499.5" y="886">PGD2</text></g>
</g>

<g id="nodes-plasma">
<g id="p-methionine" class="node"><rect x="175" y="1281" width="85" height="27"/><text x="217.5" y="1298">Methionine</text></g>
<g id="p-sam" class="node"><rect x="141" y="1316" width="123" height="26"/><text x="202.5" y="1332.5">S-Adenosylmethionine</text></g>
<g id="p-calcium" class="node blu"><rect x="143" y="1401" width="88" height="24"/><text x="187" y="1416.5">Calcium</text></g>
<g id="p-adipic" class="node"><rect x="255" y="1354" width="61" height="22"/><text x="285.5" y="1368.5">Adipic acid</text></g>
<g id="p-cobalamin" class="node blu"><rect x="314" y="1320" width="68" height="24"/><text x="348" y="1335.5">Cobalamin</text></g>
<g id="p-methylmalonic" class="node"><rect x="226" y="1461" width="123" height="25"/><text x="287.5" y="1477">Methylmalonic acid</text></g>
<g id="p-vitb12" class="node blu"><rect x="436" y="1260" width="67" height="25"/><text x="469.5" y="1276">Vitamin B12</text></g>
<g id="p-sah" class="node"><rect x="375" y="1355" width="126" height="26"/><text x="438" y="1371.5">S-Adenosylhomocysteine</text></g>
<g id="p-lglutamic" class="node"><rect x="441" y="1424" width="124" height="26"/><text x="503" y="1440.5">L-Glutamic acid</text></g>
<g id="p-homocysteine" class="node"><rect x="577" y="1269" width="84" height="26"/><text x="619" y="1285.5">Homocysteine</text></g>
<g id="p-ketobutyric" class="node"><rect x="541" y="1341" width="99" height="28"/><text x="590.5" y="1358.5">2-Ketobutyric acid</text></g>
<g id="p-mthf" class="node"><rect x="620" y="1418" width="102" height="35"/><text x="671" y="1439">5,10-METHYL-THF</text></g>
<g id="p-cysteine" class="node"><rect x="675" y="1266" width="84" height="27"/><text x="717" y="1283">Cysteine</text></g>
<g id="p-pyridoxal" class="node blu"><rect x="836" y="1243" width="116" height="25"/><text x="894" y="1259">Pyrodoxal-5'-phosphate</text></g>
<g id="p-glycine" class="node"><rect x="844" y="1301" width="67" height="29"/><text x="877.5" y="1319">Glycine</text></g>
<g id="p-glutathione" class="node"><rect x="740" y="1318" width="84" height="26"/><text x="782" y="1334.5">Glutathione</text></g>
<g id="p-ethanolamine" class="node"><rect x="756" y="1374" width="89" height="24"/><text x="800.5" y="1389.5">Ethanolamine</text></g>
<g id="p-serine" class="node"><rect x="778" y="1474" width="67" height="25"/><text x="811.5" y="1490">Serine</text></g>
<g id="p-folic" class="node blu"><rect x="879" y="1352" width="68" height="33"/><text x="913" y="1372">FOLIC ACID</text></g>
<g id="p-selenium" class="node blu"><rect x="864" y="1436" width="84" height="26"/><text x="906" y="1452.5">Selenium</text></g>
<g id="p-ltb4" class="node"><rect x="954" y="1331" width="80" height="21"/><text x="994" y="1345">Leukotriene B4</text></g>
<g id="p-ltc4" class="node"><rect x="1019" y="1260" width="80" height="21"/><text x="1059" y="1274">Leukotriene C4</text></g>
<g id="p-ltd4" class="node"><rect x="1052" y="1302" width="80" height="21"/><text x="1092" y="1316">Leukotriene D4</text></g>
<g id="p-lte4" class="node"><rect x="1090" y="1343" width="79" height="21"/><text x="1129.5" y="1357">LeukotrieneE4</text></g>
<g id="p-uric" class="node"><rect x="1112" y="1430" width="74" height="25"/><text x="1149" y="1446">Uric acid</text></g>
<g id="p-lipoxina4" class="node"><rect x="1176" y="1299" width="58" height="24"/><text x="1205" y="1314.5">Lipoxin A4</text></g>
<g id="p-pgf2a" class="node"><rect x="1249" y="1269" width="53" height="18"/><text x="1275.5" y="1281.5">PGF2a</text></g>
<g id="p-txa2" class="node"><rect x="1218" y="1363" width="83" height="17"/><text x="1259.5" y="1375">Tromboxane A2</text></g>
<g id="p-hete15" class="node"><rect x="1227" y="1404" width="51" height="19"/><text x="1252.5" y="1417">15-HETE</text></g>
<g id="p-iron" class="node blu"><rect x="1234" y="1442" width="56" height="25"/><text x="1262" y="1458">Iron</text></g>
<g id="p-hypoxanthine" class="node"><rect x="1274" y="1318" width="74" height="25"/><text x="1311" y="1334">Hypoxanthine</text></g>
<g id="p-nadp" class="node"><rect x="1313" y="1462" width="54" height="21"/><text x="1340" y="1476">NADP</text></g>
<g id="p-ipf2" class="node"><rect x="1347" y="1356" width="73" height="27"/><text x="1383.5" y="1373">iPF2-alpha</text></g>
<g id="p-nadph" class="node"><rect x="1345" y="1404" width="53" height="21"/><text x="1371.5" y="1418">NADPH</text></g>
<g id="p-pgi2" class="node"><rect x="1411" y="1293" width="47" height="22"/><text x="1434.5" y="1307.5">PGI2</text></g>
<g id="p-pgd2" class="node"><rect x="1471" y="1336" width="44" height="21"/><text x="1493" y="1350">PGD2</text></g>
<g id="p-mna" class="node"><rect x="1453" y="1458" width="113" height="24"/><text x="1509.5" y="1473.5">1-methylnicotinamide</text></g>
<g id="p-pge2" class="node"><rect x="1544" y="1270" width="44" height="21"/><text x="1566" y="1284">PGE2</text></g>
<g id="p-c225" class="node"><rect x="1595" y="1289" width="58" height="26"/><text x="1624" y="1305.5">C22:5 (n-6)</text></g>
<g id="p-aa" class="node"><rect x="1578" y="1341" width="62" height="23"/><text x="1609" y="1356">AA (n-6)</text></g>
<g id="p-la" class="node"><rect x="1526" y="1388" width="62" height="31"/><text x="1557" y="1407">LA (n-6)</text></g>
<g id="p-tocopherol" class="node blu"><rect x="1598" y="1423" width="80" height="26"/><text x="1638" y="1439.5">a-tocopherol</text></g>
<g id="p-zinc" class="node blu"><rect x="1688" y="1386" width="57" height="28"/><text x="1716.5" y="1403.5">Zinc</text></g>
<g id="p-copper" class="node blu"><rect x="1732" y="1463" width="56" height="25"/><text x="1760" y="1479">Copper</text></g>
<g id="p-epa" class="node blu"><rect x="1789" y="1248" width="56" height="25"/><text x="1817" y="1264">EPA (n-3)</text></g>
<g id="p-dha" class="node blu"><rect x="1742" y="1322" width="55" height="25"/><text x="1769.5" y="1338">DHA (n-3)</text></g>
<g id="p-ala" class="node blu"><rect x="1826" y="1315" width="55" height="25"/><text x="1853.5" y="1331">ALA (n-3)</text></g>
<g id="p-ascorbic" class="node blu"><rect x="1802" y="1417" width="80" height="24"/><text x="1842" y="1432.5">Ascorbic acid</text></g>
</g>

<g id="legend">
<rect x="87" y="1532" width="611" height="239" fill="none" stroke="#33eecc" stroke-width="1.5"/>
<g id="leg-enzyme" class="node enz"><rect x="134" y="1628" width="83" height="22"/><text x="175.5" y="1642.5">Generic enzyme</text></g>
<g class="leg"><rect x="535" y="1553" width="20" height="19"/><text x="545" y="1566">B</text></g>
<g class="leg"><rect x="535" y="1583" width="20" height="19"/><text x="545" y="1596">T</text></g>
<g class="leg"><rect x="535" y="1616" width="20" height="19"/><text x="545" y="1629">IE</text></g>
<g class="leg"><rect x="535" y="1651" width="20" height="19"/><text x="545" y="1664">TT</text></g>
<g class="leg"><rect x="535" y="1681" width="20" height="19"/><text x="545" y="1694">CN</text></g>
</g>
</svg>
